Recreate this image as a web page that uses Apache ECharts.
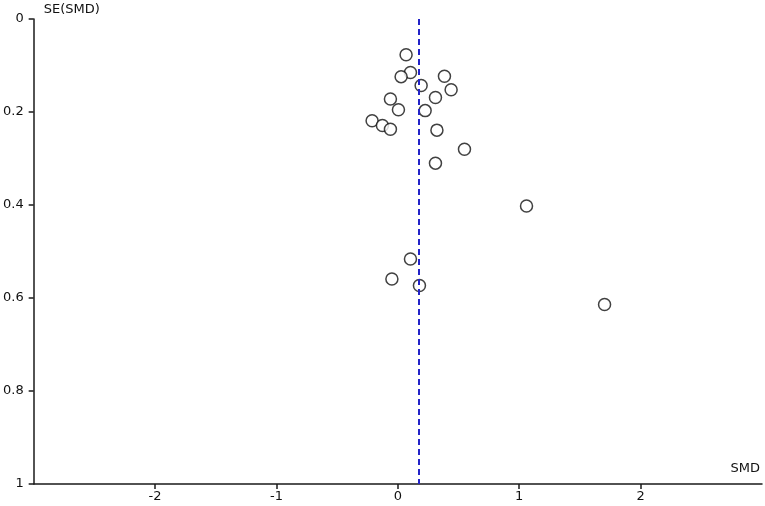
<!DOCTYPE html>
<html>
<head>
<meta charset="utf-8">
<script src="https://cdn.jsdelivr.net/npm/echarts@6/dist/echarts.min.js"></script>
<style>
  html, body { margin: 0; padding: 0; background: #fff; }
  #funnel-chart { width: 765px; height: 506px; }
</style>
</head>
<body>
<div id="funnel-chart"></div>
<script>
// study effects (SMD) and their standard errors
const smd_values = [
  0.068, 0.104, 0.027, 0.384, 0.192, 0.439, -0.061, 0.310, 0.005, 0.225,
  -0.212, -0.127, -0.061, 0.322, 0.549, 0.310, 1.060, 0.104, -0.049, 0.178, 1.703,
];
const se_values = [
  0.077, 0.115, 0.124, 0.123, 0.143, 0.152, 0.172, 0.169, 0.195, 0.197,
  0.219, 0.229, 0.237, 0.239, 0.280, 0.310, 0.402, 0.516, 0.559, 0.573, 0.614,
];
// pooled estimate (dashed line)
const pooled_smd = 0.175;
const x_ticks = [-2, -1, 0, 1, 2];
const y_ticks = [0, 0.2, 0.4, 0.6, 0.8, 1];

const container = document.getElementById("funnel-chart");
const chart = echarts.init(container);

const axis_color = "#1a1a1a";
const font = "DejaVu Sans";

chart.setOption({
  backgroundColor: "#fff",
  animation: false,
  grid: { left: 32, right: 3, top: 19, bottom: 22, containLabel: false },
  xAxis: {
    type: "value",
    min: -3,
    max: 3,
    interval: 1,
    name: "SMD",
    nameLocation: "end",
    nameGap: -2,
    nameTextStyle: {
      color: "#111", fontFamily: font, fontSize: 13,
      align: "right", verticalAlign: "bottom", padding: [0, 0, 9, 0],
    },
    splitLine: { show: false },
    axisLine: { onZero: false, lineStyle: { color: axis_color, width: 1.5 } },
    axisTick: {
      inside: false, length: 5, customValues: x_ticks,
      lineStyle: { color: axis_color, width: 1.5 },
    },
    axisLabel: {
      customValues: x_ticks, margin: 6,
      color: "#111", fontFamily: font, fontSize: 13,
    },
  },
  yAxis: {
    type: "value",
    min: 0,
    max: 1,
    interval: 0.2,
    inverse: true,
    // inverse axis: "start" is the top
    name: "SE(SMD)",
    nameLocation: "start",
    nameGap: 9,
    nameTextStyle: {
      color: "#111", fontFamily: font, fontSize: 13,
      align: "left", verticalAlign: "middle", padding: [0, 0, 0, 10],
    },
    splitLine: { show: false },
    axisLine: { onZero: false, lineStyle: { color: axis_color, width: 1.5 } },
    axisTick: {
      inside: false, length: 5, customValues: y_ticks,
      lineStyle: { color: axis_color, width: 1.5 },
    },
    axisLabel: {
      margin: 10, color: "#111", fontFamily: font, fontSize: 13,
    },
  },
  series: [
    {
      name: "Studies",
      type: "scatter",
      data: smd_values.map((x, i) => [x, se_values[i]]),
      symbol: "circle",
      symbolSize: 12,
      itemStyle: { color: "#fff", borderColor: "#111", borderWidth: 1.5 },
      markLine: {
        silent: true,
        symbol: "none",
        label: { show: false },
        lineStyle: { color: "#2323c8", width: 2, type: [6, 4] },
        data: [{ xAxis: pooled_smd }],
      },
      z: 3,
    },
  ],
});

window.addEventListener("resize", chart.resize);
</script>
</body>
</html>
